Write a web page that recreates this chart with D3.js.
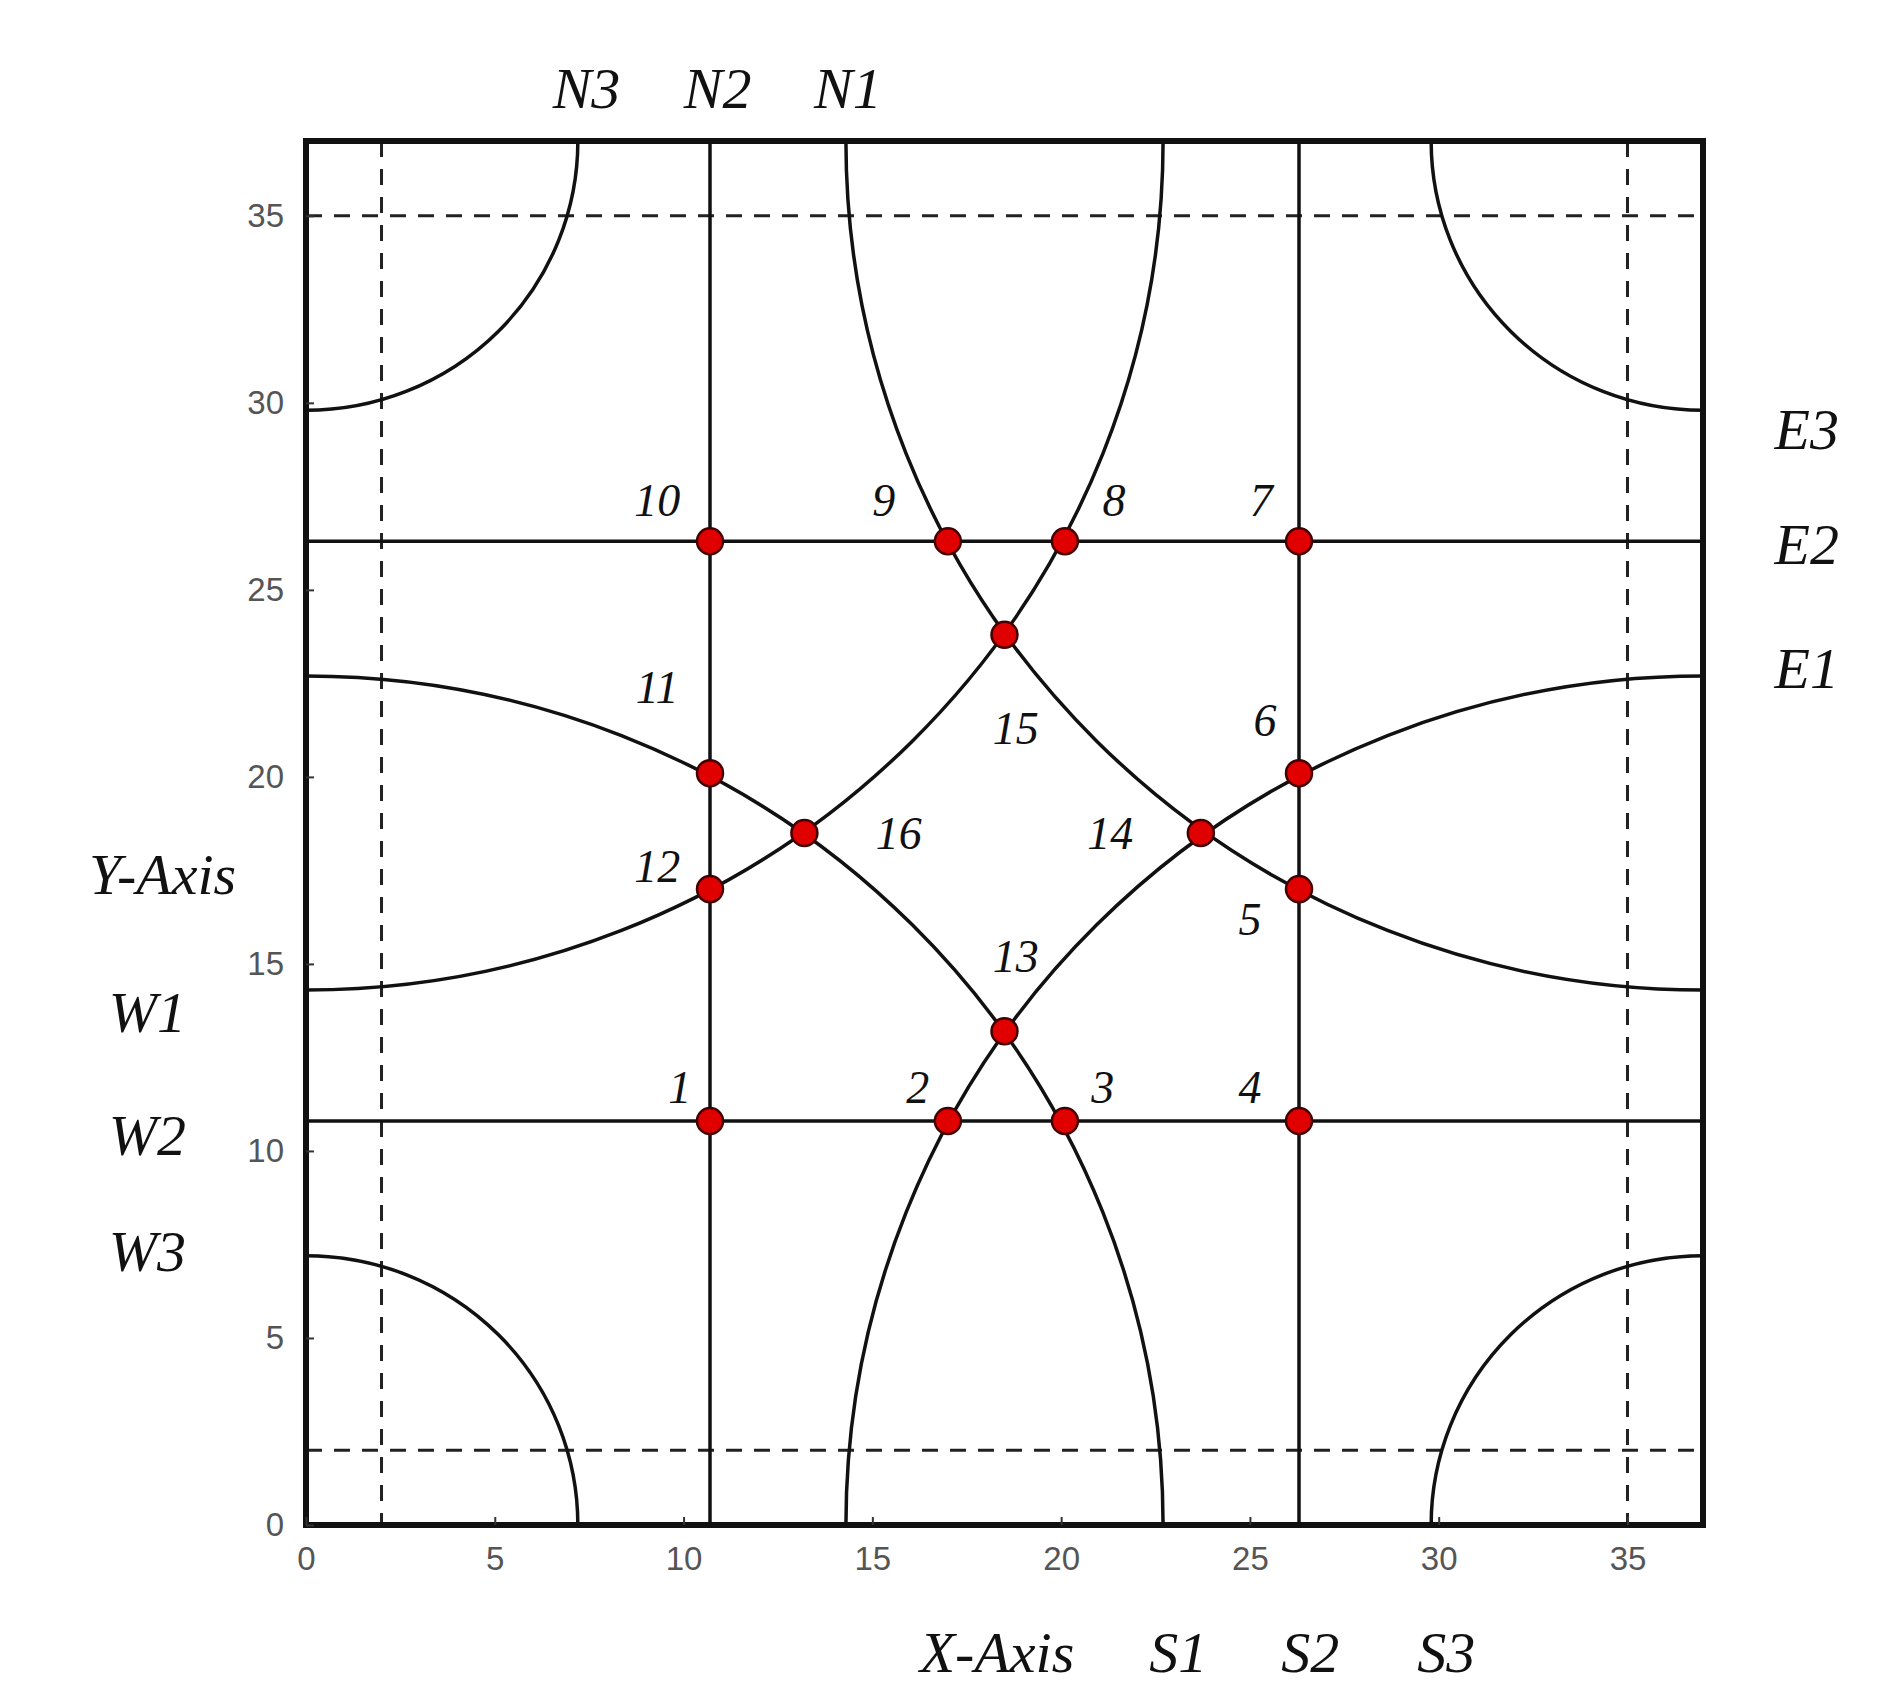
<!DOCTYPE html>
<html>
<head>
<meta charset="utf-8">
<script src="https://cdn.jsdelivr.net/npm/d3@7"></script>
<style>
  body { margin: 0; background: #fff; }
  .tick text { font-family: "Liberation Sans", Arial, sans-serif; fill: #555; }
  .lab { font-family: "Liberation Serif", "Times New Roman", serif; font-style: italic; fill: #111; }
</style>
</head>
<body>
<svg id="chart" width="1883" height="1704"></svg>
<script>
// plot domain and ticks
const domainMax = 37;
const tickValues = [0, 5, 10, 15, 20, 25, 30, 35];

// solid lanes and dashed boundary lines
const solidX = [10.7, 26.3];
const solidY = [10.8, 26.3];
const dashedX = [2, 35];
const dashedY = [2, 35];

// arcs: centre and radius
const arcs = [
  { cx: 0, cy: 0, r: 7.2 }, { cx: 0, cy: 37, r: 7.2 },
  { cx: 37, cy: 0, r: 7.2 }, { cx: 37, cy: 37, r: 7.2 },
  { cx: 0, cy: 0, r: 22.7 }, { cx: 0, cy: 37, r: 22.7 },
  { cx: 37, cy: 0, r: 22.7 }, { cx: 37, cy: 37, r: 22.7 }
];

// conflict points: [id, x, y, labelX, labelY]
const points = [
  [1, 10.7, 10.8, 9.9, 11.7], [2, 17.0, 10.8, 16.2, 11.7], [3, 20.1, 10.8, 21.1, 11.7],
  [4, 26.3, 10.8, 25.0, 11.7], [5, 26.3, 17.0, 25.0, 16.2], [6, 26.3, 20.1, 25.4, 21.5],
  [7, 26.3, 26.3, 25.3, 27.4], [8, 20.1, 26.3, 21.4, 27.4], [9, 17.0, 26.3, 15.3, 27.4],
  [10, 10.7, 26.3, 9.3, 27.4], [11, 10.7, 20.1, 9.3, 22.4], [12, 10.7, 17.0, 9.3, 17.6],
  [13, 18.5, 13.2, 18.8, 15.2], [14, 23.7, 18.5, 21.3, 18.5], [15, 18.5, 23.8, 18.8, 21.3],
  [16, 13.2, 18.5, 15.7, 18.5]
];

// outer direction labels: [text, x, y]
const outerLabels = [
  ["N3", 7.43, 38.4], ["N2", 10.9, 38.4], ["N1", 14.35, 38.4],
  ["E3", 39.75, 29.3], ["E2", 39.75, 26.2], ["E1", 39.75, 22.9],
  ["W1", -4.2, 13.7], ["W2", -4.2, 10.4], ["W3", -4.2, 7.3],
  ["Y-Axis", -3.8, 17.4],
  ["X-Axis", 18.3, -3.4], ["S1", 23.1, -3.4], ["S2", 26.6, -3.4], ["S3", 30.2, -3.4]
];

const plotLeft = 306, plotRight = 1703, plotTop = 141, plotBottom = 1525;
const x = d3.scaleLinear().domain([0, domainMax]).range([plotLeft, plotRight]);
const y = d3.scaleLinear().domain([0, domainMax]).range([plotBottom, plotTop]);

const svg = d3.select("#chart");

svg.append("defs").append("clipPath").attr("id", "clip")
  .append("rect").attr("x", plotLeft).attr("y", plotTop)
  .attr("width", plotRight - plotLeft).attr("height", plotBottom - plotTop);

const plot = svg.append("g").attr("clip-path", "url(#clip)");

// dashed lines
plot.selectAll(".dx").data(dashedX).enter().append("line")
  .attr("x1", d => x(d)).attr("x2", d => x(d)).attr("y1", plotTop).attr("y2", plotBottom)
  .attr("stroke", "#222").attr("stroke-width", 3).attr("stroke-dasharray", "16,12");
plot.selectAll(".dy").data(dashedY).enter().append("line")
  .attr("y1", d => y(d)).attr("y2", d => y(d)).attr("x1", plotLeft).attr("x2", plotRight)
  .attr("stroke", "#222").attr("stroke-width", 3).attr("stroke-dasharray", "16,12");

// solid lines
plot.selectAll(".sx").data(solidX).enter().append("line")
  .attr("x1", d => x(d)).attr("x2", d => x(d)).attr("y1", plotTop).attr("y2", plotBottom)
  .attr("stroke", "#111").attr("stroke-width", 3.5);
plot.selectAll(".sy").data(solidY).enter().append("line")
  .attr("y1", d => y(d)).attr("y2", d => y(d)).attr("x1", plotLeft).attr("x2", plotRight)
  .attr("stroke", "#111").attr("stroke-width", 3.5);

// arcs as circles clipped to the plot
plot.selectAll(".arc").data(arcs).enter().append("ellipse")
  .attr("cx", d => x(d.cx)).attr("cy", d => y(d.cy))
  .attr("rx", d => x(d.r) - x(0)).attr("ry", d => y(0) - y(d.r))
  .attr("fill", "none").attr("stroke", "#111").attr("stroke-width", 3.5);

// frame
svg.append("rect").attr("x", plotLeft).attr("y", plotTop)
  .attr("width", plotRight - plotLeft).attr("height", plotBottom - plotTop)
  .attr("fill", "none").attr("stroke", "#111").attr("stroke-width", 6);

// axes
const xAxis = svg.append("g").attr("transform", `translate(0,${plotBottom})`)
  .call(d3.axisBottom(x).tickValues(tickValues).tickSize(-8).tickPadding(22));
const yAxis = svg.append("g").attr("transform", `translate(${plotLeft},0)`)
  .call(d3.axisLeft(y).tickValues(tickValues).tickSize(-8).tickPadding(22));
[xAxis, yAxis].forEach(a => {
  a.select(".domain").remove();
  a.selectAll(".tick line").attr("stroke", "#333").attr("stroke-width", 2);
  a.selectAll(".tick text").attr("font-size", 33);
});

// points
svg.selectAll(".pt").data(points).enter().append("circle")
  .attr("cx", d => x(d[1])).attr("cy", d => y(d[2])).attr("r", 13)
  .attr("fill", "#e00000").attr("stroke", "#400").attr("stroke-width", 2.5);

svg.selectAll(".plab").data(points).enter().append("text")
  .attr("class", "lab")
  .attr("x", d => x(d[3])).attr("y", d => y(d[4]))
  .attr("text-anchor", "middle").attr("dominant-baseline", "central")
  .attr("font-size", 46)
  .text(d => d[0]);

svg.selectAll(".olab").data(outerLabels).enter().append("text")
  .attr("class", "lab")
  .attr("x", d => x(d[1])).attr("y", d => y(d[2]))
  .attr("text-anchor", "middle").attr("dominant-baseline", "central")
  .attr("font-size", 58)
  .text(d => d[0]);
</script>
</body>
</html>
